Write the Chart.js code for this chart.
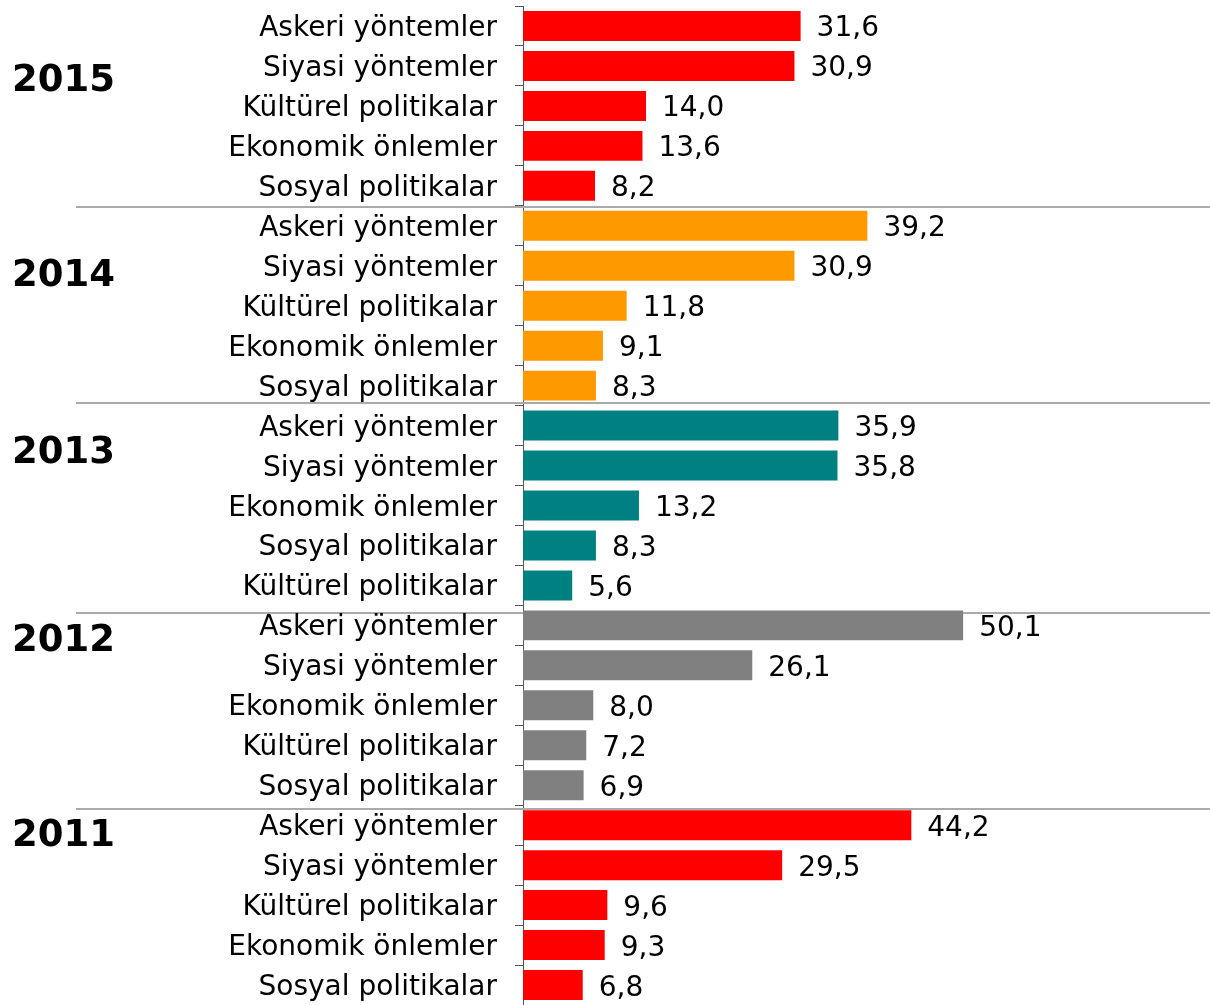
<!DOCTYPE html>
<html>
<head>
<meta charset="utf-8">
<script src="https://cdn.jsdelivr.net/npm/chart.js@4/dist/chart.umd.min.js"></script>
<style>
  html, body { margin: 0; padding: 0; background: #fff; }
  #wrap { width: 1210px; height: 1005px; }
</style>
</head>
<body>
<div id="wrap"><canvas id="methodsChart"></canvas></div>
<script>
// yillar ve renkler
const years = ['2015', '2014', '2013', '2012', '2011'];
const yearColors = ['#ff0000', '#ff9900', '#008080', '#808080', '#ff0000'];

const labels2015 = ['Askeri yöntemler', 'Siyasi yöntemler', 'Kültürel politikalar', 'Ekonomik önlemler', 'Sosyal politikalar'];
const values2015 = [31.6, 30.9, 14.0, 13.6, 8.2];

const labels2014 = ['Askeri yöntemler', 'Siyasi yöntemler', 'Kültürel politikalar', 'Ekonomik önlemler', 'Sosyal politikalar'];
const values2014 = [39.2, 30.9, 11.8, 9.1, 8.3];

const labels2013 = ['Askeri yöntemler', 'Siyasi yöntemler', 'Ekonomik önlemler', 'Sosyal politikalar', 'Kültürel politikalar'];
const values2013 = [35.9, 35.8, 13.2, 8.3, 5.6];

const labels2012 = ['Askeri yöntemler', 'Siyasi yöntemler', 'Ekonomik önlemler', 'Kültürel politikalar', 'Sosyal politikalar'];
const values2012 = [50.1, 26.1, 8.0, 7.2, 6.9];

const labels2011 = ['Askeri yöntemler', 'Siyasi yöntemler', 'Kültürel politikalar', 'Ekonomik önlemler', 'Sosyal politikalar'];
const values2011 = [44.2, 29.5, 9.6, 9.3, 6.8];

const groupLabels = [labels2015, labels2014, labels2013, labels2012, labels2011];
const groupValues = [values2015, values2014, values2013, values2012, values2011];

// tek seri halinde birlestir
const allLabels = [];
const allValues = [];
const allColors = [];
const groupStarts = [];
groupLabels.forEach((lbls, g) => {
    groupStarts.push(allLabels.length);
    lbls.forEach((l, i) => {
        allLabels.push(l);
        allValues.push(groupValues[g][i]);
        allColors.push(yearColors[g]);
    });
});

const FONT = 'DejaVu Sans, Verdana, sans-serif';

// grup ayirici cizgiler, kategori ve yil etiketleri
const groupPlugin = {
    id: 'groupPlugin',
    beforeDatasetsDraw(chart, args, opts) {
        const y = chart.scales.y;
        const ctx = chart.ctx;
        ctx.save();
        ctx.strokeStyle = '#aaaaaa';
        ctx.lineWidth = 2;
        groupStarts.slice(1).forEach((start, k) => {
            const py = Math.round((y.getPixelForValue(start - 1) + y.getPixelForValue(start)) / 2) + opts.sepNudge[k];
            ctx.beginPath();
            ctx.moveTo(76, py);
            ctx.lineTo(chart.width, py);
            ctx.stroke();
        });
        ctx.restore();
    },
    afterDraw(chart, args, opts) {
        const y = chart.scales.y;
        const ctx = chart.ctx;
        ctx.save();
        ctx.fillStyle = '#000';
        ctx.textBaseline = 'alphabetic';

        // kategori etiketleri (eksenin solunda)
        ctx.font = '28px ' + FONT;
        ctx.textAlign = 'right';
        y.getLabels().forEach((lbl, i) => {
            ctx.fillText(lbl, y.right - 26, y.getPixelForValue(i) + 10);
        });

        // yil etiketleri
        ctx.font = 'bold 37px ' + FONT;
        ctx.textAlign = 'left';
        years.forEach((yr, g) => {
            const py = y.getPixelForValue(groupStarts[g] + opts.rowOffsets[g]);
            ctx.fillText(yr, 12, py + 13.5);
        });
        ctx.restore();
    }
};

// deger etiketleri
const valueLabels = {
    id: 'valueLabels',
    afterDatasetsDraw(chart) {
        const ctx = chart.ctx;
        const meta = chart.getDatasetMeta(0);
        ctx.save();
        ctx.fillStyle = '#000';
        ctx.font = '28px ' + FONT;
        ctx.textAlign = 'left';
        ctx.textBaseline = 'alphabetic';
        meta.data.forEach((bar, i) => {
            const txt = allValues[i].toFixed(1).replace('.', ',');
            ctx.fillText(txt, bar.x + 16, bar.y + 10.5);
        });
        ctx.restore();
    }
};

new Chart(document.getElementById('methodsChart'), {
    type: 'bar',
    data: {
        labels: allLabels,
        datasets: [{
            data: allValues,
            backgroundColor: allColors,
            borderWidth: 0,
            barPercentage: 0.75,
            categoryPercentage: 1.0
        }]
    },
    options: {
        indexAxis: 'y',
        responsive: true,
        maintainAspectRatio: false,
        animation: false,
        layout: { padding: { top: 6, right: 0, bottom: 0, left: 0 } },
        plugins: {
            legend: { display: false },
            tooltip: { enabled: false },
            groupPlugin: {
                rowOffsets: [1.3, 1.175, 0.6, 0.3, 0.175],
                sepNudge: [1, -3, 8, 4]
            }
        },
        scales: {
            x: {
                display: false,
                min: 0,
                max: 78.2
            },
            y: {
                grid: {
                    offset: true,
                    drawOnChartArea: false,
                    tickLength: 8,
                    color: '#555'
                },
                border: { display: true, color: '#555', width: 1 },
                ticks: {
                    display: false,
                    autoSkip: false,
                    font: { family: FONT, size: 28, lineHeight: 0.05 }
                },
                afterFit(scale) {
                    scale.width = 523;
                    scale.paddingTop = 0;
                    scale.paddingBottom = 0;
                }
            }
        }
    },
    plugins: [groupPlugin, valueLabels]
});
</script>
</body>
</html>
